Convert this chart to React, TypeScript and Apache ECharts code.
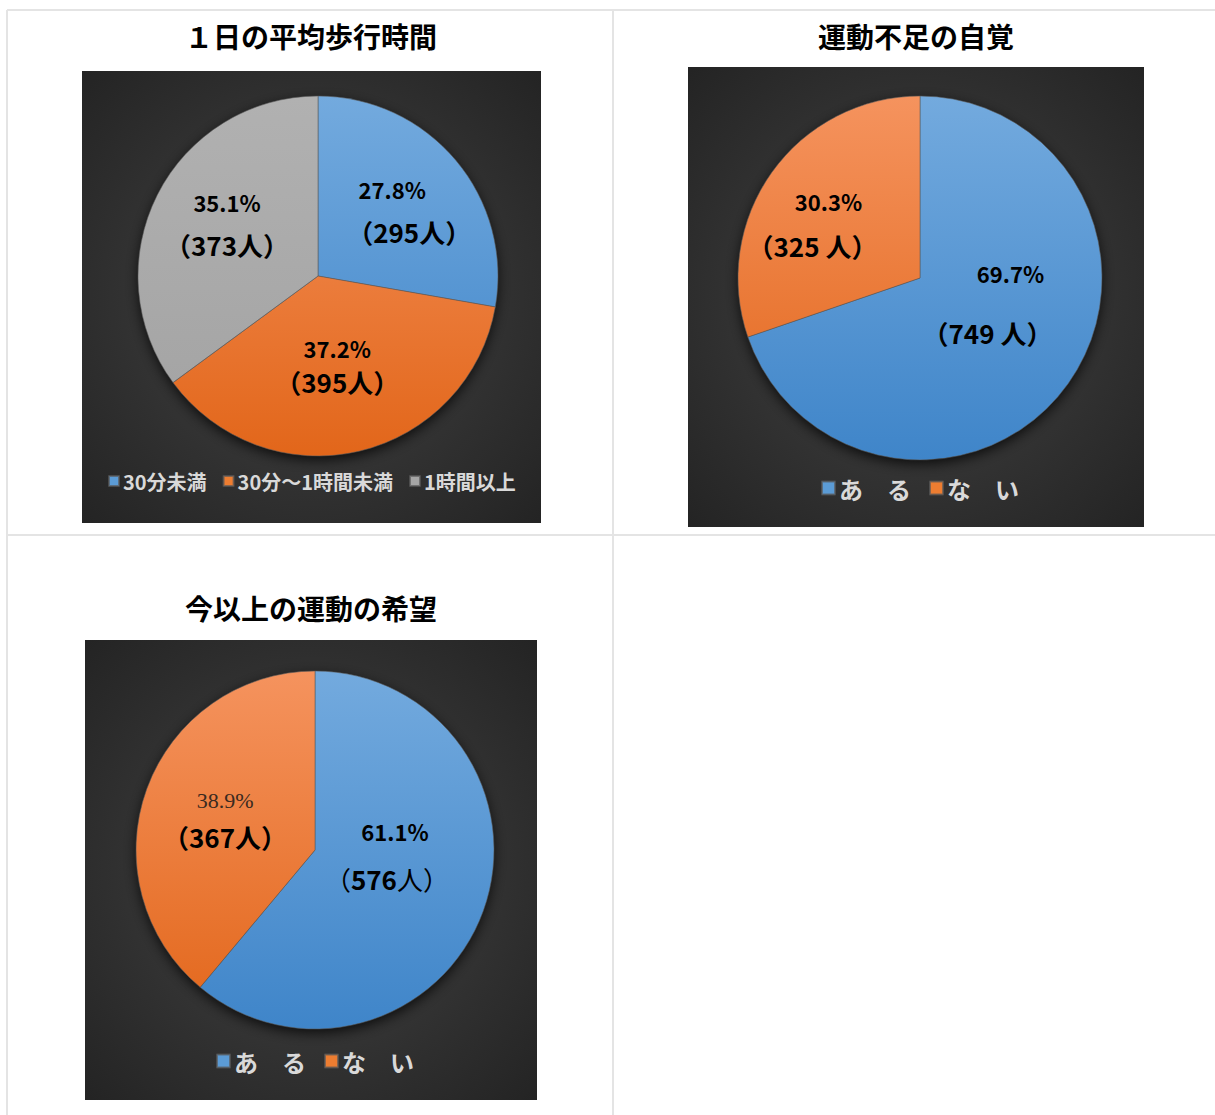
import React, { useEffect, useRef } from "react";
import * as echarts from "echarts";

const titles = ["１日の平均歩行時間", "運動不足の自覚", "今以上の運動の希望"];

const walkCategories = ["30分未満", "30分～1時間未満", "1時間以上"];
const walkCounts = [295, 395, 373];
const walkPercents = ["27.8%", "37.2%", "35.1%"];

const lackCategories = ["あ　る", "な　い"];
const lackCounts = [749, 325];
const lackPercents = ["69.7%", "30.3%"];

const wishCategories = ["あ　る", "な　い"];
const wishCounts = [576, 367];
const wishPercents = ["61.1%", "38.9%"];

const FONT = "'Noto Sans CJK JP', 'Noto Sans', sans-serif";

const BLUE = ["#73aade", "#3f85c9"];
const ORANGE = ["#f5935e", "#e2661a"];
const GRAY = ["#b1b1b1", "#a2a2a2"];
const LEGEND_SOLID = ["#5b9bd5", "#ed7d31", "#a5a5a5"];

function grad(cx: number, cy: number, r: number, c: string[]) {
  return new echarts.graphic.LinearGradient(
    cx,
    cy - r,
    cx,
    cy + r,
    [
      { offset: 0, color: c[0] },
      { offset: 1, color: c[1] },
    ],
    true
  );
}

function bg() {
  return new echarts.graphic.RadialGradient(0.5, 0.5, 0.72, [
    { offset: 0, color: "#444444" },
    { offset: 1, color: "#232323" },
  ]);
}

type LabelCfg = {
  offset: number[];
  lh: number;
  pPadL?: number;
  cPadL?: number;
  serifPct?: boolean;
  thinCount?: boolean;
  space?: boolean;
};

function makeLabel(pct: string, count: number, cfg: LabelCfg) {
  const unit = cfg.space ? " 人" : "人";
  const countPart = cfg.thinCount
    ? `{cl|（}{c|${count}}{cl|${unit}）}`
    : `{c|（${count}${unit}）}`;
  const pStyle: any = cfg.serifPct
    ? {
        fontFamily: "'Liberation Serif', 'DejaVu Serif', serif",
        fontSize: 22,
        fontWeight: "normal",
        color: "#3a2a20",
        lineHeight: cfg.lh,
      }
    : {
        fontFamily: FONT,
        fontSize: 22,
        fontWeight: "bold",
        color: "#000",
        lineHeight: cfg.lh,
      };
  if (cfg.pPadL) pStyle.padding = [0, 0, 0, cfg.pPadL];
  const cStyle: any = {
    fontFamily: FONT,
    fontSize: 26,
    fontWeight: "bold",
    color: "#000",
    lineHeight: cfg.lh,
  };
  const clStyle: any = {
    fontFamily: FONT,
    fontSize: 26,
    fontWeight: "normal",
    color: "#000",
    lineHeight: cfg.lh,
  };
  if (cfg.cPadL) cStyle.padding = [0, 0, 0, cfg.cPadL];
  return {
    show: true,
    position: "inside",
    offset: cfg.offset,
    formatter: `{p|${pct}}\n${countPart}`,
    rich: { p: pStyle, c: cStyle, cl: clStyle },
  };
}

function pieSeries(
  names: string[],
  counts: number[],
  pcts: string[],
  colors: string[][],
  cx: number,
  cy: number,
  r: number,
  cfgs: LabelCfg[]
) {
  return {
    type: "pie",
    center: [cx, cy],
    radius: r,
    startAngle: 90,
    clockwise: true,
    z: 3,
    emphasis: { disabled: true },
    labelLine: { show: false },
    data: names.map((n, i) => ({
      name: n,
      value: counts[i],
      itemStyle: {
        color: grad(cx, cy, r, colors[i]),
        borderColor: "rgba(90,90,90,0.7)",
        borderWidth: 0.8,
      },
      label: makeLabel(pcts[i], counts[i], cfgs[i]),
    })),
  };
}

function legendFor(names: string[], left: number, top: number, fontSize: number, icon: number, gap: number) {
  return {
    data: names.map((n, i) => ({ name: n, itemStyle: { color: LEGEND_SOLID[i] } })),
    left,
    top,
    padding: 0,
    orient: "horizontal",
    icon: "rect",
    itemWidth: icon,
    itemHeight: icon,
    itemGap: gap,
    selectedMode: false,
    textStyle: {
      color: "#d9d9d9",
      fontSize,
      fontWeight: "bold",
      fontFamily: FONT,
      padding: [0, 0, 0, -1],
    },
  };
}

export default function App() {
  const ref = useRef<HTMLDivElement>(null);

  useEffect(() => {
    if (!ref.current) return;
    const chart = echarts.init(ref.current, undefined, { renderer: "svg" });

    const lineStyle = { stroke: "#e4e4e4", lineWidth: 2 };
    const shadow = { fill: "#222", shadowBlur: 14, shadowColor: "rgba(0,0,0,0.85)", shadowOffsetY: 4 };

    const option: any = {
      animation: false,
      backgroundColor: "#ffffff",
      title: [
        { text: titles[0], left: 311, top: 22 },
        { text: titles[1], left: 916, top: 22 },
        { text: titles[2], left: 311, top: 594 },
      ].map((t) => ({
        ...t,
        textAlign: "center",
        padding: 0,
        textStyle: { fontFamily: FONT, fontSize: 28, fontWeight: "bold", color: "#000" },
      })),
      legend: [
        legendFor(walkCategories, 108, 471, 20, 10, 16),
        legendFor(lackCategories, 821, 476, 24, 13, 18),
        legendFor(wishCategories, 216, 1049, 24, 13, 18),
      ],
      graphic: [
        { type: "line", z: 0, shape: { x1: 7, y1: 10, x2: 1215, y2: 10 }, style: lineStyle },
        { type: "line", z: 0, shape: { x1: 7, y1: 10, x2: 7, y2: 1115 }, style: lineStyle },
        { type: "line", z: 0, shape: { x1: 613, y1: 10, x2: 613, y2: 1115 }, style: lineStyle },
        { type: "line", z: 0, shape: { x1: 7, y1: 535, x2: 1215, y2: 535 }, style: lineStyle },
        { type: "rect", z: 0, shape: { x: 82, y: 71, width: 459, height: 452 }, style: { fill: bg() } },
        { type: "rect", z: 0, shape: { x: 688, y: 67, width: 456, height: 460 }, style: { fill: bg() } },
        { type: "rect", z: 0, shape: { x: 85, y: 640, width: 452, height: 460 }, style: { fill: bg() } },
        { type: "circle", z: 1, shape: { cx: 318, cy: 276, r: 179 }, style: shadow },
        { type: "circle", z: 1, shape: { cx: 920, cy: 278, r: 181 }, style: shadow },
        { type: "circle", z: 1, shape: { cx: 315, cy: 850, r: 178 }, style: shadow },
      ],
      series: [
        pieSeries(walkCategories, walkCounts, walkPercents, [BLUE, ORANGE, GRAY], 318, 276, 180, [
          { offset: [3, -6], lh: 43, cPadL: 34 },
          { offset: [-2, -2], lh: 34 },
          { offset: [-8, -11], lh: 42 },
        ]),
        pieSeries(lackCategories, lackCounts, lackPercents, [BLUE, ORANGE], 920, 278, 182, [
          { offset: [-9, -30], lh: 60, pPadL: 46, space: true },
          { offset: [-31, 0], lh: 45, pPadL: 32, space: true },
        ]),
        pieSeries(wishCategories, wishCounts, wishPercents, [BLUE, ORANGE], 315, 850, 179, [
          { offset: [-15, -27], lh: 47, pPadL: 16, thinCount: true },
          { offset: [-3, 0], lh: 36, serifPct: true },
        ]),
      ],
    };

    chart.setOption(option);
    return () => chart.dispose();
  }, []);

  return (
    <div
      ref={ref}
      style={{ position: "absolute", left: 0, top: 0, width: 1215, height: 1115 }}
    />
  );
}
